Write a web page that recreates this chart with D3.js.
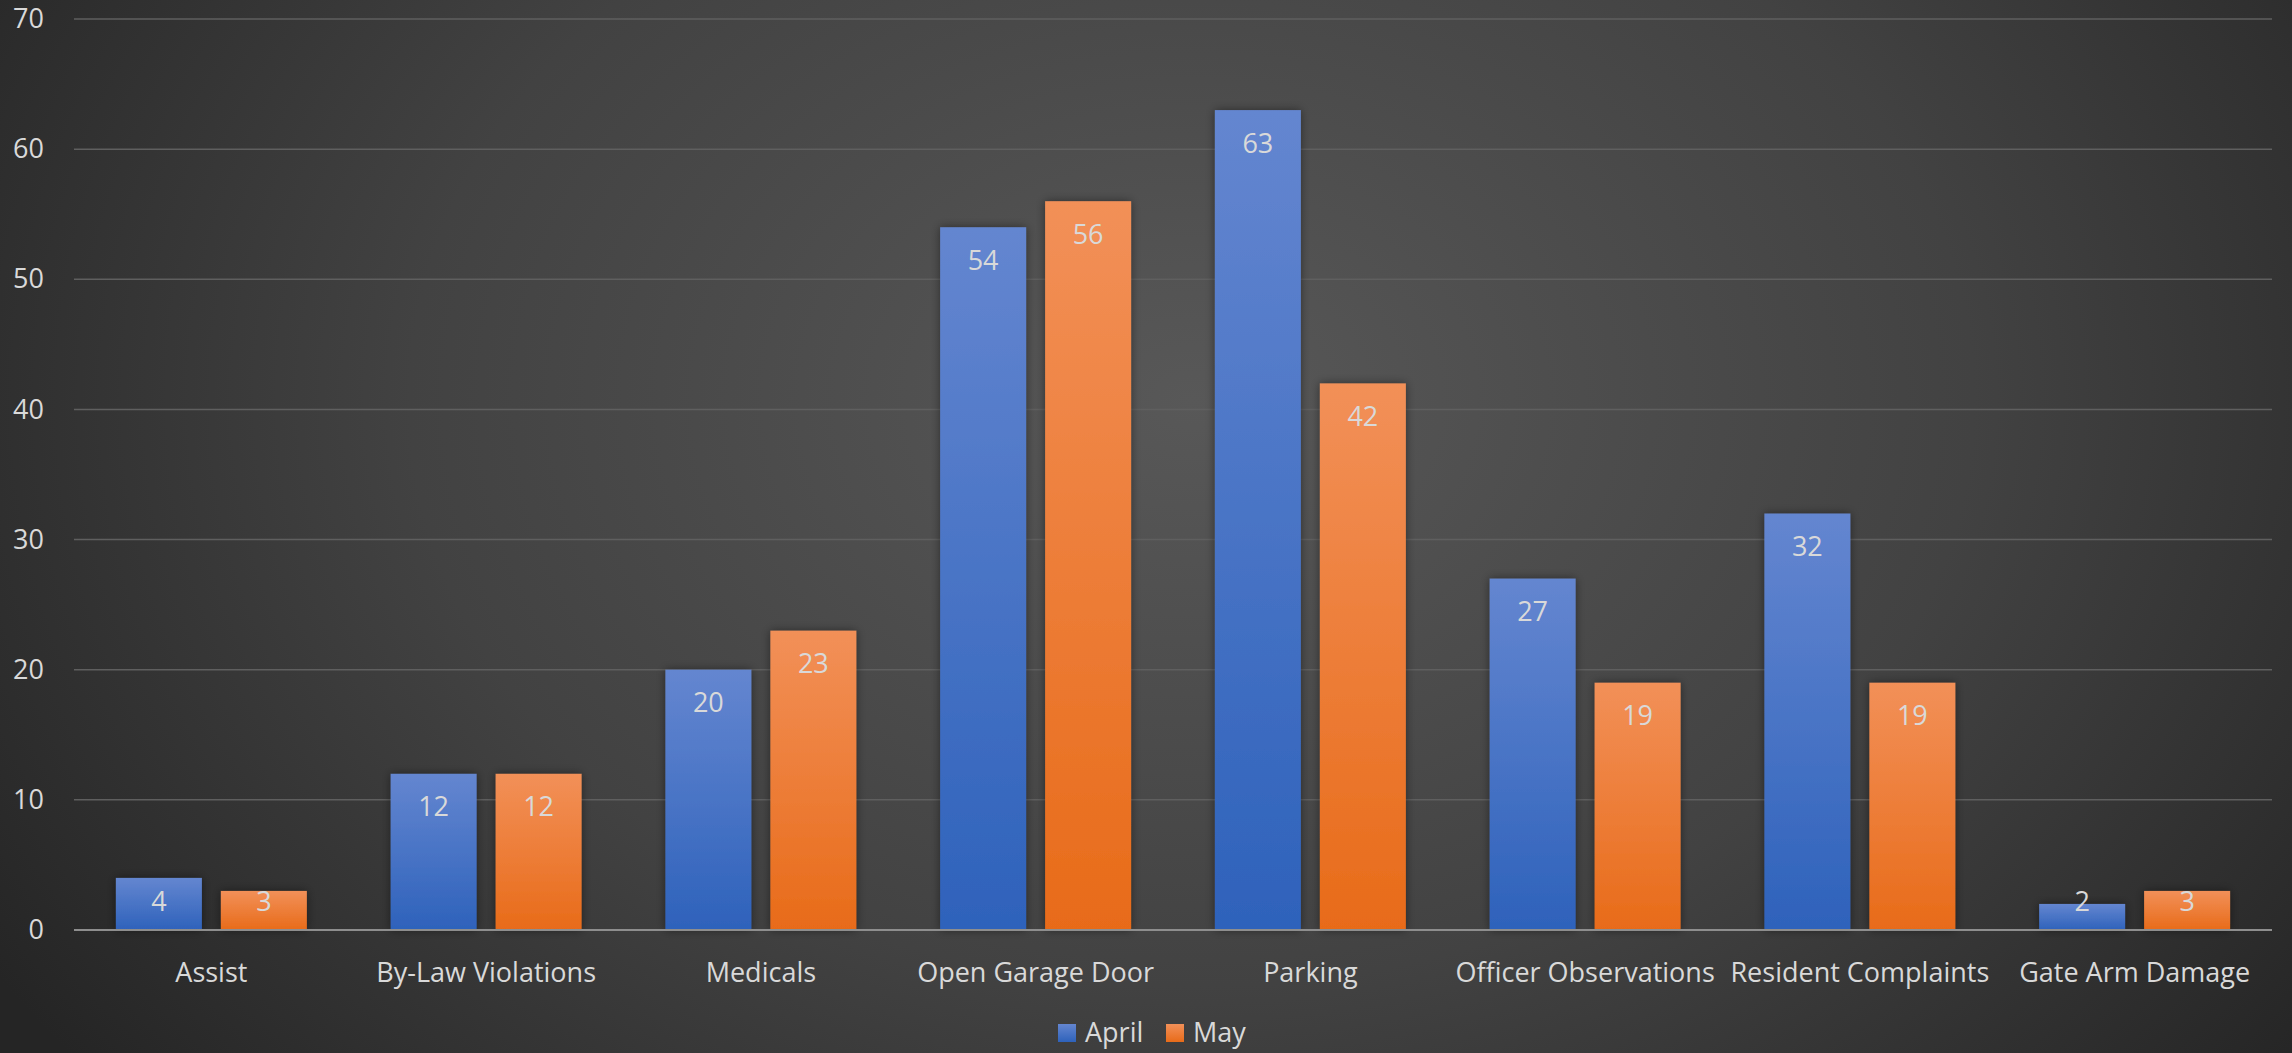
<!DOCTYPE html>
<html>
<head>
<meta charset="utf-8">
<script src="https://cdn.jsdelivr.net/npm/d3@7"></script>
<style>
  html, body { margin: 0; padding: 0; background: #2a2a2a; }
  svg { display: block; }
</style>
</head>
<body>
<svg id="chart"></svg>
<script>
// Incident counts by category, April vs May
const categories = ["Assist", "By-Law Violations", "Medicals", "Open Garage Door", "Parking",
                    "Officer Observations", "Resident Complaints", "Gate Arm Damage"];
const seriesNames = ["April", "May"];
const aprilValues = [4, 12, 20, 54, 63, 27, 32, 2];
const mayValues = [3, 12, 23, 56, 42, 19, 19, 3];
const yTicks = [0, 10, 20, 30, 40, 50, 60, 70];

const W = 2292, H = 1053;
const margin = { left: 74, right: 20, top: 19, bottom: 123 };
const FONT = "'Open Sans', 'Noto Sans', sans-serif";
const TEXT = "#d9d9d9";

const svg = d3.select("#chart").attr("width", W).attr("height", H);
const defs = svg.append("defs");

// Background: soft radial vignette
const bg = defs.append("radialGradient").attr("id", "bg")
  .attr("gradientUnits", "userSpaceOnUse")
  .attr("cx", W * 0.52).attr("cy", H * 0.38).attr("r", W * 0.62)
  .attr("gradientTransform", `translate(${W*0.52},${H*0.38}) scale(1,0.75) translate(${-W*0.52},${-H*0.38})`);
bg.append("stop").attr("offset", "0%").attr("stop-color", "#585858");
bg.append("stop").attr("offset", "55%").attr("stop-color", "#424242");
bg.append("stop").attr("offset", "100%").attr("stop-color", "#252525");
svg.append("rect").attr("width", W).attr("height", H).attr("fill", "url(#bg)");

// Bar fills: lighter at the top, deeper at the base
const fills = {
  April: ["#6486d0", "#2e62bb"],
  May: ["#f29058", "#e86b19"]
};
seriesNames.forEach(s => {
  const g = defs.append("linearGradient").attr("id", "grad-" + s)
    .attr("x1", 0).attr("y1", 0).attr("x2", 0).attr("y2", 1);
  g.append("stop").attr("offset", "0%").attr("stop-color", fills[s][0]);
  g.append("stop").attr("offset", "100%").attr("stop-color", fills[s][1]);
});

const shadow = defs.append("filter").attr("id", "shadow")
  .attr("x", "-30%").attr("y", "-30%").attr("width", "160%").attr("height", "160%");
shadow.append("feDropShadow").attr("dx", 0).attr("dy", 0).attr("stdDeviation", 5)
  .attr("flood-color", "#000").attr("flood-opacity", 0.45);

const x0 = d3.scaleBand().domain(categories)
  .range([margin.left, W - margin.right])
  .paddingInner(0.305).paddingOuter(0.1525);
const x1 = d3.scaleBand().domain(seriesNames)
  .range([0, x0.bandwidth()]).paddingInner(0.181);
const y = d3.scaleLinear().domain([0, 70]).range([H - margin.bottom, margin.top]);

// Gridlines
svg.append("g").selectAll("line").data(yTicks.filter(t => t > 0)).join("line")
  .attr("x1", margin.left).attr("x2", W - margin.right)
  .attr("y1", d => y(d)).attr("y2", d => y(d))
  .attr("stroke", "#5f5f5f").attr("stroke-width", 1.5);

// Y axis labels
const yAxis = d3.axisLeft(y).tickValues(yTicks).tickSize(0).tickPadding(0);
const yg = svg.append("g").attr("transform", `translate(${margin.left - 30},0)`).call(yAxis);
yg.select(".domain").remove();
yg.selectAll("text").attr("fill", TEXT).attr("font-family", FONT).attr("font-size", 27);

// Bars
const rows = categories.map((c, i) => ({ cat: c, values: { April: aprilValues[i], May: mayValues[i] } }));
const groups = svg.append("g").selectAll("g").data(rows).join("g")
  .attr("transform", d => `translate(${x0(d.cat)},0)`);
groups.selectAll("rect").data(d => seriesNames.map(s => ({ s, v: d.values[s] }))).join("rect")
  .attr("x", d => x1(d.s)).attr("width", x1.bandwidth())
  .attr("y", d => y(d.v)).attr("height", d => y(0) - y(d.v))
  .attr("fill", d => `url(#grad-${d.s})`)
  .attr("filter", "url(#shadow)");

// Value labels at the inside end of each bar, kept clear of the baseline on short bars
groups.selectAll("text").data(d => seriesNames.map(s => ({ s, v: d.values[s] }))).join("text")
  .attr("x", d => x1(d.s) + x1.bandwidth() / 2)
  .attr("y", d => Math.min(y(d.v) + 33, y(0) - 28))
  .attr("dy", "0.35em")
  .attr("text-anchor", "middle")
  .attr("fill", TEXT).attr("font-family", FONT).attr("font-size", 27)
  .text(d => d.v);

// Baseline
svg.append("line")
  .attr("x1", margin.left).attr("x2", W - margin.right)
  .attr("y1", y(0)).attr("y2", y(0))
  .attr("stroke", "#8e8e8e").attr("stroke-width", 2);

// Category labels
const xAxis = d3.axisBottom(x0).tickSize(0).tickPadding(0);
const xg = svg.append("g").attr("transform", `translate(0,${y(0) + 43})`).call(xAxis);
xg.select(".domain").remove();
xg.selectAll("text").attr("fill", TEXT).attr("font-family", FONT).attr("font-size", 27)
  .attr("dy", "0.35em");

// Legend
const legend = svg.append("g").attr("transform", `translate(1058,${H - 20})`);
const legendX = [0, 108];
seriesNames.forEach((s, i) => {
  const g = legend.append("g").attr("transform", `translate(${legendX[i]},0)`);
  g.append("rect").attr("x", 0).attr("y", -9).attr("width", 18).attr("height", 18)
    .attr("fill", `url(#grad-${s})`);
  g.append("text").attr("x", 27).attr("y", 0).attr("dy", "0.35em")
    .attr("fill", TEXT).attr("font-family", FONT).attr("font-size", 27).text(s);
});
</script>
</body>
</html>
